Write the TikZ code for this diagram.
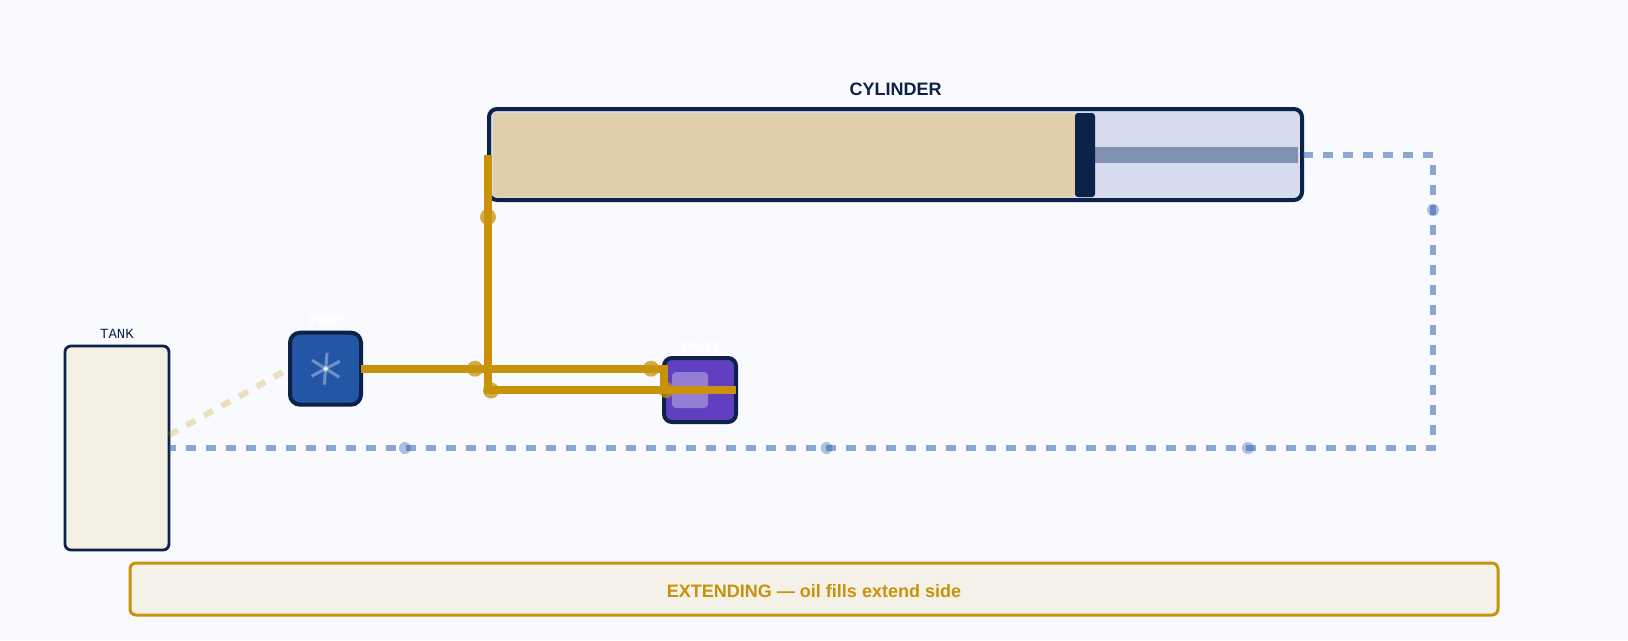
\documentclass[tikz,border=0pt]{standalone}
\usepackage{fontspec}
\setmainfont{Liberation Sans}
\setmonofont{Liberation Mono}
\definecolor{bgc}{HTML}{F8FAFE}
\definecolor{navy}{HTML}{0D2248}
\definecolor{oil}{HTML}{C8920A}
\definecolor{drain}{HTML}{2255A6}
\definecolor{tankc}{HTML}{F4F0E4}
\definecolor{bannerc}{HTML}{F4F1E9}
\definecolor{extendc}{HTML}{E0D0AA}
\definecolor{retractc}{HTML}{D6DCEE}
\definecolor{rodc}{HTML}{8090B0}
\definecolor{pumpc}{HTML}{2456A6}
\definecolor{valvec}{HTML}{6040C0}
\tikzset{
  box/.style={rectangle,inner sep=0pt,outer sep=0pt},
  oilline/.style={draw=oil,line width=6pt,line join=miter,line cap=butt},
  drainline/.style={draw=drain,draw opacity=.5,line width=4.6pt,dash pattern=on 7.5pt off 7.5pt,line join=miter},
  suction/.style={draw=oil,draw opacity=.25,line width=4.6pt,dash pattern=on 7.5pt off 7.5pt},
  oildot/.style={circle,fill=oil,fill opacity=.75,inner sep=0pt,minimum size=12pt},
  draindot/.style={circle,fill=drain,fill opacity=.35,inner sep=0pt,minimum size=9pt},
  spoke/.style={draw=white,draw opacity=.35,line width=2.25pt},
  monolabel/.style={font=\ttfamily\fontsize{10.5pt}{12pt}\selectfont,anchor=base},
}
\begin{document}
\begin{tikzpicture}[x=.75pt,y=-.75pt]
\useasboundingbox (0,0) rectangle (1628,640);
\fill[bgc] (0,0) rectangle (1628,640);
% tank
\node[box,draw=navy,line width=2.1pt,fill=tankc,rounded corners=4.5pt,minimum width=78pt,minimum height=153pt] (tank) at (117,448) {};
\node[monolabel,text=navy] (tanklabel) at (117,338) {TANK};
% cylinder
\node[box,fill=retractc,rounded corners=4.5pt,minimum width=609.75pt,minimum height=68.25pt] (cyl) at (895.5,154.5) {};
\node[box,fill=extendc,rounded corners=2.25pt,anchor=north west,minimum width=436.5pt,minimum height=63pt] (extend) at (493,113) {};
\node[box,fill=rodc,anchor=west,minimum width=152.25pt,minimum height=12pt] (rod) at (1095,155) {};
\node[box,fill=navy,rounded corners=2.25pt,anchor=north west,minimum width=15pt,minimum height=63pt] (piston) at (1075,113) {};
\node[box,draw=navy,line width=3pt,rounded corners=6pt,minimum width=609.75pt,minimum height=68.25pt] (cylframe) at (895.5,154.5) {};
\node[anchor=base,text=navy,font=\bfseries\fontsize{13.5pt}{16pt}\selectfont] (cyllabel) at (895.5,95) {CYLINDER};
% suction
\coordinate (suctionstart) at (169,435);
\coordinate (pumpin) at (289,368.7);
\draw[suction] (suctionstart) -- (pumpin);
% pump
\node[box,draw=navy,line width=3pt,fill=pumpc,rounded corners=7.5pt,minimum width=53.25pt,minimum height=54pt] (pump) at (325.5,368.7) {};
\foreach \a in {-85,-28,32}{
  \draw[spoke] (325.7,368.7) ++(\a:16) -- ++(\a+180:32);
}
\node[circle,fill=white,fill opacity=.6,inner sep=0pt,minimum size=3.5pt] (hub) at (325.7,368.7) {};
\node[monolabel,text=white,font=\ttfamily\bfseries\fontsize{10.5pt}{12pt}\selectfont] (pumplabel) at (325.5,325) {PUMP};
% valve
\node[box,draw=navy,line width=3pt,fill=valvec,rounded corners=6pt,minimum width=54pt,minimum height=48pt] (valve) at (700,390) {};
\node[box,fill=white,fill opacity=.33,rounded corners=3pt,anchor=north west,minimum width=27pt,minimum height=27pt] (spool) at (672,372) {};
\node[monolabel,text=white,font=\ttfamily\bfseries\fontsize{10.5pt}{12pt}\selectfont] (valvelabel) at (700,350) {VALVE};
% oil lines
\coordinate (j1) at (664,368.7);
\coordinate (j2) at (664,390);
\coordinate (j3) at (488,390);
\coordinate (cylport) at (488,155);
\coordinate (valveout) at (736,390);
\draw[oilline] (pump.east) -- (j1) -- (j2);
\draw[oilline] (valveout) -- (j3) -- (cylport);
\node[oildot] (d1) at (475,368.7) {};
\node[oildot] (d2) at (651,368.7) {};
\node[oildot] (d3) at (491,390.5) {};
\node[oildot] (d4) at (666.5,390) {};
\node[oildot] (d5) at (488,217) {};
% drain
\coordinate (drainstart) at (1302.7,155);
\coordinate (c1) at (1433,155);
\coordinate (c2) at (1433,448);
\coordinate (drainend) at (169,448);
\draw[drainline] (drainstart) -- (c1) -- (c2) -- (drainend);
\node[draindot] (b1) at (1433,210) {};
\node[draindot] (b2) at (405,448) {};
\node[draindot] (b3) at (826.5,448) {};
\node[draindot] (b4) at (1248,448) {};
% banner
\node[box,draw=oil,line width=2.25pt,fill=bannerc,rounded corners=4.5pt,minimum width=1026pt,minimum height=39pt] (banner) at (814,589) {};
\node[anchor=base,text=oil,font=\bfseries\fontsize{13.5pt}{16pt}\selectfont] (bannertext) at (814,597) {EXTENDING — oil fills extend side};
\end{tikzpicture}
\end{document}
